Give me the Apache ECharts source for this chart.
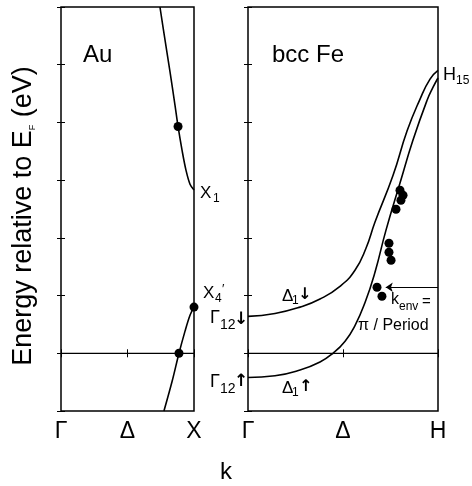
<!DOCTYPE html>
<html>
<head>
<meta charset="utf-8">
<script src="https://cdn.jsdelivr.net/npm/echarts@6/dist/echarts.min.js"></script>
<style>
html,body{margin:0;padding:0;background:#fff;}
#chart{width:472px;height:486px;}
</style>
</head>
<body>
<div id="chart"></div>
<script>
// ---- data ----
var auTickLabels = ['Γ', 'Δ', 'X'];
var feTickLabels = ['Γ', 'Δ', 'H'];
var yMin = -1, yMax = 6;
// Au bands (k in units of Γ-X, energy in eV)
var auUpperBand = [[0.744,6.0],[0.782,5.43],[0.820,4.87],[0.857,4.30],[0.880,3.93],[0.910,3.52],[0.940,3.17],[0.970,2.93],[1.0,2.83]];
var auLowerBand = [[0.774,-1.0],[0.835,-0.49],[0.887,0],[0.932,0.38],[0.970,0.66],[1.0,0.80]];
var auDots = [[0.880,3.93],[0.887,0],[1.0,0.80]];
// Fe bands (k in units of Γ-H)
var feDownBand = [[0,0.64],[0.142,0.69],[0.274,0.80],[0.379,0.94],[0.484,1.16],[0.563,1.44],[0.621,1.82],[0.668,2.27],[0.763,3.08],[0.837,3.85],[0.905,4.40],[0.958,4.75],[1.0,4.90]];
var feUpBand = [[0,-0.42],[0.142,-0.39],[0.274,-0.29],[0.379,-0.15],[0.447,0],[0.511,0.21],[0.563,0.48],[0.616,0.88],[0.668,1.40],[0.726,2.13],[0.80,2.95],[0.868,3.69],[0.942,4.38],[0.974,4.61],[1.0,4.77]];
var feDots = [[0.800,2.825],[0.816,2.738],[0.805,2.652],[0.779,2.496],[0.742,1.906],[0.742,1.750],[0.753,1.612],[0.679,1.144],[0.705,0.988]];
var fermiLine = [[0,0],[1,0]];
var kenvArrow = [[1.0,1.144],[0.725,1.144]];

var FONT = 'Liberation Sans, Arial, sans-serif';
var chart = echarts.init(document.getElementById('chart'), null, {renderer:'canvas'});

function xAx(grid, pos, labels) {
  return {
    gridIndex: grid, type: 'value', min: 0, max: 1, interval: 0.5, position: pos,
    axisLine: {show: false}, splitLine: {show: false},
    axisTick: {show: true, inside: true, length: 4, lineStyle: {color: '#000', width: 1}},
    axisLabel: labels ? {show: true, margin: 9, color: '#000', fontSize: 23, fontFamily: FONT,
      formatter: function (v) { return labels[Math.round(v / 0.5)]; }} : {show: false}
  };
}
function yAx(grid, pos) {
  return {
    gridIndex: grid, type: 'value', min: yMin, max: yMax, interval: 1, position: pos,
    axisLine: {show: false}, splitLine: {show: false},
    axisTick: {show: true, inside: true, length: 4, lineStyle: {color: '#000', width: 1}},
    axisLabel: {show: false}
  };
}
function lineSer(x, y, data, w, sm) {
  return {type: 'line', xAxisIndex: x, yAxisIndex: y, data: data, smooth: sm || 0.35, showSymbol: false,
    symbol: 'none', lineStyle: {color: '#000', width: w || 1.6}, silent: true, animation: false, z: 3};
}
function dotSer(x, y, data) {
  return {type: 'scatter', xAxisIndex: x, yAxisIndex: y, data: data, symbol: 'circle', symbolSize: 9,
    itemStyle: {color: '#000', opacity: 1}, silent: true, animation: false, z: 5};
}
function txt(x, y, text, size, align, fam, weight) {
  return {type: 'text', x: x, y: y, silent: true, style: {text: text, fill: '#000',
    font: (weight || 'normal') + ' ' + size + 'px ' + (fam || FONT),
    align: align || 'left', verticalAlign: 'middle'}};
}
var ARW = 'DejaVu Sans, sans-serif';

var option = {
  backgroundColor: '#fff',
  animation: false,
  grid: [
    {left: 61, top: 7, width: 133, height: 404, show: true, borderColor: '#000', borderWidth: 1.5},
    {left: 248, top: 7, width: 190, height: 404, show: true, borderColor: '#000', borderWidth: 1.5}
  ],
  xAxis: [xAx(0, 'bottom', auTickLabels), xAx(0, 'top', null), xAx(1, 'bottom', feTickLabels), xAx(1, 'top', null)],
  yAxis: [yAx(0, 'left'), yAx(0, 'right'), yAx(1, 'left'), yAx(1, 'right')],
  series: [
    lineSer(0, 0, fermiLine, 1.3),
    lineSer(0, 0, auUpperBand),
    lineSer(0, 0, auLowerBand),
    dotSer(0, 0, auDots),
    lineSer(2, 2, fermiLine, 1.3),
    lineSer(2, 2, feDownBand, 1.6, 0.5),
    lineSer(2, 2, feUpBand, 1.6, 0.5),
    dotSer(2, 2, feDots),
    {type: 'lines', coordinateSystem: 'cartesian2d', xAxisIndex: 2, yAxisIndex: 2, silent: true, animation: false,
      symbol: ['none', 'arrow'], symbolSize: 7, lineStyle: {color: '#000', width: 1, opacity: 1}, z: 4,
      data: [{coords: kenvArrow}]}
  ],
  graphic: [
    {type: 'text', x: 24, y: 216, rotation: Math.PI / 2, silent: true,
      style: {text: 'Energy relative to E{s|F} (eV)', fill: '#000', font: '27px ' + FONT, align: 'center', verticalAlign: 'middle',
        rich: {s: {fontSize: 9, fontFamily: FONT, fill: '#000', verticalAlign: 'bottom', padding: [8, 0, 0, 0]}}}},
    txt(83, 55, 'Au', 24),
    txt(272, 55, 'bcc Fe', 24),
    txt(226, 472, 'k', 24, 'center'),
    // X1
    txt(200, 193, 'X', 17), txt(213, 199, '1', 12),
    // X4'
    txt(203, 293, 'X', 17), txt(215, 299, '4', 12), txt(222, 289, '\u2032', 13),
    // H15
    txt(443, 75, 'H', 18), txt(456, 81, '15', 12),
    // Γ12↓
    txt(210, 318, 'Γ', 18), txt(220, 325, '12', 14), txt(234, 320, '↓', 17, 'left', ARW, 'bold'),
    // Γ12↑
    txt(210, 382, 'Γ', 18), txt(220, 389, '12', 14), txt(234, 382, '↑', 17, 'left', ARW, 'bold'),
    // Δ1↓
    txt(282, 296, 'Δ', 17), txt(292, 301, '1', 12), txt(298, 295, '↓', 16, 'left', ARW, 'bold'),
    // Δ1↑
    txt(282, 388, 'Δ', 17), txt(292, 393, '1', 12), txt(299, 387, '↑', 16, 'left', ARW, 'bold'),
    // k_env =
    txt(391, 300, 'k', 16), txt(399, 307, 'env', 12), txt(422, 302, '=', 15),
    // π / Period
    txt(358, 326, 'π / Period', 16)
  ]
};
chart.setOption(option);
</script>
</body>
</html>
